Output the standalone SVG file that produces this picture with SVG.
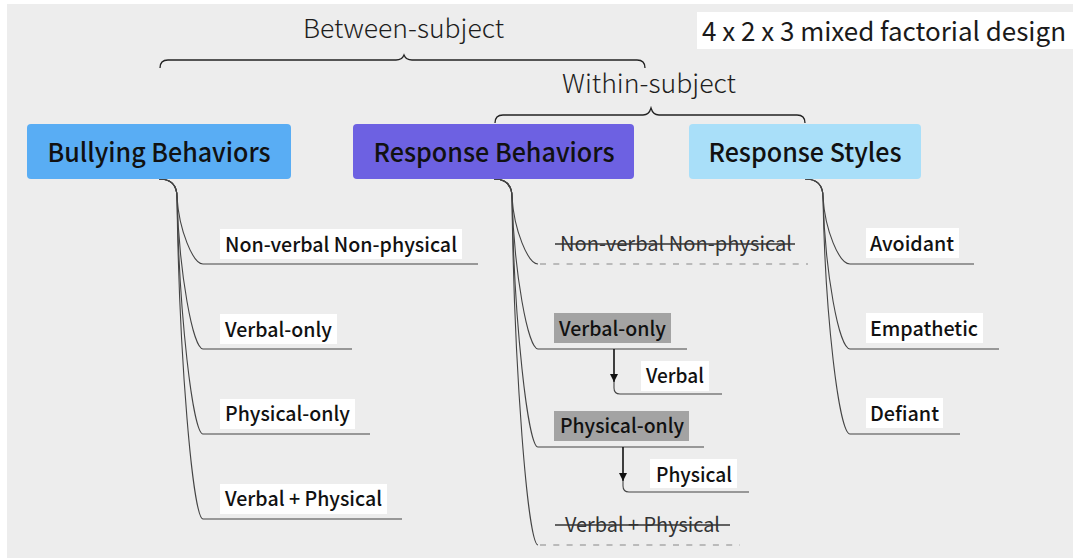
<svg xmlns="http://www.w3.org/2000/svg" width="1073" height="558" viewBox="0 0 1073 558">
<style>
.t{font-family:"Noto Sans CJK SC","Noto Sans","Liberation Sans",sans-serif;}
.head{font-size:26px;font-weight:300;fill:#1e1e1e;}
.title{font-size:26px;font-weight:500;fill:#111;}
.lab{font-size:20px;font-weight:500;fill:#111;}
.strk{font-size:20px;font-weight:400;fill:#333;}
.con{fill:none;stroke:#444;stroke-width:1.1;}
.dash{fill:none;stroke:#888;stroke-width:1.2;stroke-dasharray:6 7.3;}
.brace{fill:none;stroke:#222;stroke-width:1.3;}
.arrow{fill:none;stroke:#111;stroke-width:1.6;}
.wb{fill:#fff;}
.gb{fill:#a3a3a3;}
</style>
<defs>
<marker id="ah" viewBox="0 0 10 10" refX="5" refY="10" markerWidth="8" markerHeight="8" markerUnits="userSpaceOnUse" orient="0">
<path d="M0,0 L10,0 L5,10 Z" fill="#111"/>
</marker>
</defs>
<rect x="7" y="4" width="1066" height="554" fill="#ededed"/>

<g id="title-box">
<rect x="697" y="12" width="376" height="37" class="wb"/>
<text class="t" x="702" y="41" fill="#1a1a1a" textLength="364" lengthAdjust="spacingAndGlyphs" style="font-size:26px;font-weight:400">4 x 2 x 3  mixed factorial design</text>
</g>

<g id="between-subject">
<text class="t head" x="303" y="38" textLength="201" lengthAdjust="spacingAndGlyphs">Between-subject</text>
<path class="brace" d="M160,68 Q160,60 168,60 L396,60 Q402,60 404,55 Q406,60 412,60 L637,60 Q645,60 645,68"/>
</g>
<g id="within-subject">
<text class="t head" x="562" y="93" textLength="174" lengthAdjust="spacingAndGlyphs">Within-subject</text>
<path class="brace" d="M495,123 Q495,115 503,115 L643,115 Q649,115 651,108 Q653,115 659,115 L797,115 Q805,115 805,123"/>
</g>

<g id="connectors">
<path class="con" d="M159,179 C171,179 177,185 177,197 C179,230 193,264 203,264 L478,264"/>
<path class="con" d="M159,179 C171,179 177,185 177,197 C179,273 193,349 203,349 L352,349"/>
<path class="con" d="M159,179 C171,179 177,185 177,197 C179,315 193,434 203,434 L370,434"/>
<path class="con" d="M159,179 C171,179 177,185 177,197 C179,358 193,519 203,519 L402,519"/>
<path class="con" d="M494,179 C506,179 512,185 512,197 C514,230 528,264 538,264"/>
<line class="dash" x1="540" y1="264" x2="808" y2="264"/>
<path class="con" d="M494,179 C506,179 512,185 512,197 C514,273 528,349 538,349 L687,349"/>
<path class="con" d="M494,179 C506,179 512,185 512,197 C514,322 528,447 538,447 L704,447"/>
<path class="con" d="M494,179 C506,179 512,185 512,197 C514,371 528,545 538,545"/>
<line class="dash" x1="540" y1="545" x2="740" y2="545"/>
<line class="arrow" x1="614" y1="349" x2="614" y2="382" marker-end="url(#ah)"/>
<path class="con" d="M614,381 L614,388 Q614,394 620,394 L722,394"/>
<line class="arrow" x1="623" y1="447" x2="623" y2="481" marker-end="url(#ah)"/>
<path class="con" d="M623,480 L623,486 Q623,492 629,492 L749,492"/>
<path class="con" d="M805,179 C817,179 823,185 823,197 C825,230 839,264 850,264 L974,264"/>
<path class="con" d="M805,179 C817,179 823,185 823,197 C825,273 839,349 850,349 L999,349"/>
<path class="con" d="M805,179 C817,179 823,185 823,197 C825,315 839,434 850,434 L960,434"/>
</g>

<g id="bullying-behaviors">
<rect x="27" y="124" width="264" height="55" rx="4" fill="#59adf4"/>
<text class="t title" x="159" y="162" text-anchor="middle" textLength="223" lengthAdjust="spacingAndGlyphs">Bullying Behaviors</text>
</g>
<g id="response-behaviors">
<rect x="353" y="124" width="281" height="55" rx="4" fill="#6d61e2"/>
<text class="t title" x="494" y="162" text-anchor="middle" textLength="241" lengthAdjust="spacingAndGlyphs">Response Behaviors</text>
</g>
<g id="response-styles">
<rect x="689" y="124" width="232" height="55" rx="4" fill="#a9dff9"/>
<text class="t title" x="805" y="162" text-anchor="middle" textLength="193" lengthAdjust="spacingAndGlyphs">Response Styles</text>
</g>

<g id="bb-nonverbal">
<rect x="220" y="229" width="242" height="30" class="wb"/>
<text class="t lab" x="225" y="251.5" textLength="232" lengthAdjust="spacingAndGlyphs">Non-verbal Non-physical</text>
</g>
<g id="bb-verbal-only">
<rect x="220" y="314" width="117" height="30" class="wb"/>
<text class="t lab" x="225" y="336.5" textLength="107" lengthAdjust="spacingAndGlyphs">Verbal-only</text>
</g>
<g id="bb-physical-only">
<rect x="220" y="399" width="135" height="30" class="wb"/>
<text class="t lab" x="225" y="421" textLength="125" lengthAdjust="spacingAndGlyphs">Physical-only</text>
</g>
<g id="bb-verbal-physical">
<rect x="220" y="484" width="167" height="30" class="wb"/>
<text class="t lab" x="225" y="506" textLength="157" lengthAdjust="spacingAndGlyphs">Verbal + Physical</text>
</g>

<g id="rb-nonverbal">
<text class="t strk" x="560" y="251" textLength="232" lengthAdjust="spacingAndGlyphs">Non-verbal Non-physical</text>
<line x1="555" y1="244" x2="795" y2="244" stroke="#333" stroke-width="1.5"/>
</g>
<g id="rb-verbal-only">
<rect x="554" y="313" width="117" height="30" class="gb"/>
<text class="t lab" x="559" y="335.5" textLength="107" lengthAdjust="spacingAndGlyphs">Verbal-only</text>
</g>
<g id="rb-verbal">
<rect x="641" y="361" width="68" height="30" class="wb"/>
<text class="t lab" x="646" y="383" textLength="58" lengthAdjust="spacingAndGlyphs">Verbal</text>
</g>
<g id="rb-physical-only">
<rect x="554" y="411" width="135" height="30" class="gb"/>
<text class="t lab" x="560" y="433" textLength="124" lengthAdjust="spacingAndGlyphs">Physical-only</text>
</g>
<g id="rb-physical">
<rect x="650" y="459" width="87" height="29" class="wb"/>
<text class="t lab" x="656" y="481.5" textLength="76" lengthAdjust="spacingAndGlyphs">Physical</text>
</g>
<g id="rb-verbal-physical">
<text class="t strk" x="565" y="531.5" textLength="155" lengthAdjust="spacingAndGlyphs">Verbal + Physical</text>
<line x1="555" y1="525" x2="730" y2="525" stroke="#333" stroke-width="1.5"/>
</g>

<g id="rs-avoidant">
<rect x="866" y="228" width="93" height="30" class="wb"/>
<text class="t lab" x="870" y="251" textLength="84" lengthAdjust="spacingAndGlyphs">Avoidant</text>
</g>
<g id="rs-empathetic">
<rect x="866" y="313" width="117" height="30" class="wb"/>
<text class="t lab" x="870" y="336" textLength="108" lengthAdjust="spacingAndGlyphs">Empathetic</text>
</g>
<g id="rs-defiant">
<rect x="866" y="398" width="77" height="30" class="wb"/>
<text class="t lab" x="870" y="421" textLength="69" lengthAdjust="spacingAndGlyphs">Defiant</text>
</g>
</svg>
